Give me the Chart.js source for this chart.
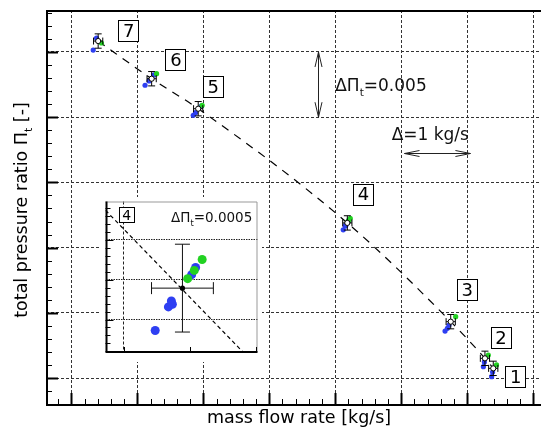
<!DOCTYPE html>
<html>
<head>
<meta charset="utf-8">
<script src="https://cdn.jsdelivr.net/npm/chart.js@4.4.1/dist/chart.umd.min.js"></script>
<style>
  html, body { margin: 0; padding: 0; background: #fff; overflow: hidden; }
  #wrap { position: relative; width: 546px; height: 442px; }
  #mainChart { position: absolute; left: 0; top: 0; }
  #insetChart { position: absolute; left: 101px; top: 197px; }
</style>
</head>
<body>
<div id="wrap">
  <canvas id="mainChart" width="546" height="442"></canvas>
  <canvas id="insetChart" width="161" height="165"></canvas>
</div>
<script>
const FONT = '"DejaVu Sans", "Liberation Sans", Arial, sans-serif';
const BLUE = '#2e3ff2';
const GREEN = '#22d222';

// operating points 1..7: mean values
const pointLabels = ['1', '2', '3', '4', '5', '6', '7'];
const meanFlow  = [16.396, 16.270, 15.751, 14.183, 11.922, 11.216, 10.405];
const meanRatio = [1.01074, 1.01151, 1.01432, 1.021893, 1.03065, 1.03295, 1.03584];
const errFlow = 0.07;
const errRatio = 0.00055;

// where the boxed numbers sit
const labelFlow  = [16.731, 16.506, 15.993, 14.419, 12.144, 11.577, 10.860];
const labelRatio = [1.01012, 1.01307, 1.01679, 1.02411, 1.03239, 1.03446, 1.03661];

// single measurements of point 4 (also shown in the inset)
const p4BlueFlow   = [14.1213, 14.1512, 14.1579, 14.1602, 14.2038, 14.2128];
const p4BlueRatio  = [1.021362, 1.021658, 1.021732, 1.021691, 1.022062, 1.022152];
const p4GreenFlow  = [14.1948, 14.2097, 14.2276];
const p4GreenRatio = [1.022012, 1.022115, 1.022251];

// single measurements of the other points
const blueFlow  = [16.371, 16.386, 16.246, 16.261, 15.665, 15.700, 15.725,
                   11.847, 11.881, 11.971, 11.116, 11.177, 11.252, 10.330, 10.380];
const blueRatio = [1.01010, 1.01046, 1.01087, 1.01123, 1.01360, 1.01381, 1.01406,
                   1.03015, 1.03035, 1.03086, 1.03245, 1.03278, 1.03324, 1.03515, 1.03607];
const greenFlow  = [16.446, 16.321, 15.826, 11.982, 11.291, 10.455];
const greenRatio = [1.01100, 1.01176, 1.01470, 1.03091, 1.03334, 1.03569];

// trend line
const trendFlow  = [10.405, 11.216, 11.922, 14.183, 15.751, 16.270, 16.396];
const trendRatio = [1.03584, 1.03295, 1.03065, 1.021893, 1.01432, 1.01151, 1.01074];

// axes
const xMin = 9.614, xMax = 17.12;
const yMin = 1.00793, yMax = 1.03822;
const xMajor = [10, 11, 12, 13, 14, 15, 16, 17];
const yMajor = [1.010, 1.015, 1.020, 1.025, 1.030, 1.035];

// scale annotations
const dRatioArrow = { flow: 13.739, from: 1.030, to: 1.035 };
const dFlowArrow = { ratio: 1.02726, from: 15.05, to: 16.05 };
const dRatioText = { flow: 14.0, ratio: 1.03247 };
const dFlowText = { flow: 14.855, ratio: 1.02871 };

// inset axes
const inXMin = 14.0088, inXMax = 14.3529;
const inYMin = 1.021093, inYMax = 1.022978;
const inXGrid = [14.05];
const inXMajor = [14.05, 14.20, 14.35];
const inYMajor = [1.0215, 1.0220, 1.0225];
const inTrendFlow  = [14.0088, 14.3198];
const inTrendRatio = [1.022868, 1.021094];
const inLabel = { flow: 14.0556, ratio: 1.022812 };
const inText = { flow: 14.341, ratio: 1.022781 };

function pts(xs, ys) { return xs.map((x, i) => ({ x: x, y: ys[i] })); }

function drawRich(ctx, parts, x, y, size) {
  parts.forEach(([s, sub]) => {
    ctx.font = (sub ? size * 0.62 : size) + 'px ' + FONT;
    ctx.fillText(s, x, sub ? y + size * 0.3 : y);
    x += ctx.measureText(s).width;
  });
}
function richWidth(ctx, parts, size) {
  let w = 0;
  parts.forEach(([s, sub]) => {
    ctx.font = (sub ? size * 0.62 : size) + 'px ' + FONT;
    w += ctx.measureText(s).width;
  });
  return w;
}
function head(ctx, tx, ty, dx, dy, len, half) {
  ctx.moveTo(tx + dx * len - dy * half, ty + dy * len + dx * half);
  ctx.lineTo(tx, ty);
  ctx.lineTo(tx + dx * len + dy * half, ty + dy * len - dx * half);
}
function errorBars(ctx, x, y, fx, fy, ex, ey, capV, capH) {
  const px = x.getPixelForValue(fx), py = y.getPixelForValue(fy);
  const x0 = x.getPixelForValue(fx - ex), x1 = x.getPixelForValue(fx + ex);
  const y0 = y.getPixelForValue(fy + ey), y1 = y.getPixelForValue(fy - ey);
  ctx.beginPath();
  ctx.moveTo(px, y0); ctx.lineTo(px, y1);
  ctx.moveTo(x0, py); ctx.lineTo(x1, py);
  ctx.moveTo(px - capV, y0); ctx.lineTo(px + capV, y0);
  ctx.moveTo(px - capV, y1); ctx.lineTo(px + capV, y1);
  ctx.moveTo(x0, py - capH); ctx.lineTo(x0, py + capH);
  ctx.moveTo(x1, py - capH); ctx.lineTo(x1, py + capH);
  ctx.stroke();
}
function box(ctx, cx, cy, w, h, text, size) {
  ctx.fillStyle = '#fff';
  ctx.fillRect(Math.round(cx - w / 2) + 0.5, Math.round(cy - h / 2) + 0.5, w, h);
  ctx.strokeStyle = '#000';
  ctx.lineWidth = 1;
  ctx.strokeRect(Math.round(cx - w / 2) + 0.5, Math.round(cy - h / 2) + 0.5, w, h);
  ctx.fillStyle = '#000';
  ctx.font = size + 'px ' + FONT;
  ctx.textAlign = 'center';
  ctx.textBaseline = 'alphabetic';
  ctx.fillText(text, cx + 0.5, cy + size * 0.36);
  ctx.textAlign = 'left';
}

const mainDecor = {
  id: 'mainDecor',
  beforeDatasetDraw(chart, args) {
    if (args.index !== 0) return;
    const { ctx, scales: { x, y } } = chart;
    ctx.save();
    ctx.strokeStyle = '#000';
    ctx.lineWidth = 1;
    meanFlow.forEach((f, i) => errorBars(ctx, x, y, f, meanRatio[i], errFlow, errRatio, 3.5, 3.5));
    ctx.restore();
  },
  afterDraw(chart) {
    const { ctx, chartArea: a, scales: { x, y } } = chart;
    ctx.save();
    ctx.strokeStyle = '#000';
    // minor / major ticks, pointing inward
    for (let k = Math.ceil(yMin / 0.001); k <= Math.floor(yMax / 0.001); k++) {
      const py = Math.round(y.getPixelForValue(k * 0.001)) + 0.5;
      const major = k % 5 === 0;
      ctx.lineWidth = major ? 2 : 1;
      ctx.beginPath(); ctx.moveTo(a.left, py); ctx.lineTo(a.left + (major ? 12 : 6), py); ctx.stroke();
    }
    for (let k = Math.ceil(xMin / 0.2); k <= Math.floor(xMax / 0.2); k++) {
      const px = Math.round(x.getPixelForValue(k * 0.2)) + 0.5;
      const major = k % 5 === 0;
      ctx.lineWidth = major ? 2 : 1;
      ctx.beginPath(); ctx.moveTo(px, a.bottom); ctx.lineTo(px, a.bottom - (major ? 12 : 6)); ctx.stroke();
    }
    // frame
    ctx.lineWidth = 2;
    ctx.beginPath();
    ctx.moveTo(a.right, a.top + 1); ctx.lineTo(a.left + 1, a.top + 1);
    ctx.lineTo(a.left + 1, a.bottom); ctx.lineTo(a.right, a.bottom);
    ctx.stroke();

    // boxed numbers
    pointLabels.forEach((t, i) => box(ctx, x.getPixelForValue(labelFlow[i]), y.getPixelForValue(labelRatio[i]), 20, 21, t, 18));

    // scale arrows
    ctx.strokeStyle = '#222';
    ctx.lineWidth = 1;
    const ax = Math.round(x.getPixelForValue(dRatioArrow.flow)) + 0.5;
    const ay0 = y.getPixelForValue(dRatioArrow.to), ay1 = y.getPixelForValue(dRatioArrow.from);
    ctx.beginPath();
    ctx.moveTo(ax, ay0); ctx.lineTo(ax, ay1);
    head(ctx, ax, ay0, 0, 1, 15, 3.5);
    head(ctx, ax, ay1, 0, -1, 15, 3.5);
    ctx.stroke();
    const hy = Math.round(y.getPixelForValue(dFlowArrow.ratio)) + 0.5;
    const hx0 = x.getPixelForValue(dFlowArrow.from), hx1 = x.getPixelForValue(dFlowArrow.to);
    ctx.beginPath();
    ctx.moveTo(hx0, hy); ctx.lineTo(hx1, hy);
    head(ctx, hx0, hy, 1, 0, 15, 3);
    head(ctx, hx1, hy, -1, 0, 15, 3);
    ctx.stroke();

    ctx.fillStyle = '#111';
    ctx.textBaseline = 'alphabetic';
    ctx.textAlign = 'left';
    drawRich(ctx, [['\u0394\u03A0', 0], ['t', 1], ['=0.005', 0]],
      x.getPixelForValue(dRatioText.flow), y.getPixelForValue(dRatioText.ratio) + 17 * 0.36, 17);
    drawRich(ctx, [['\u0394=1 kg/s', 0]],
      x.getPixelForValue(dFlowText.flow), y.getPixelForValue(dFlowText.ratio) + 17 * 0.36, 17);

    // axis titles
    ctx.fillStyle = '#000';
    ctx.font = '17.5px ' + FONT;
    ctx.textAlign = 'center';
    ctx.fillText('mass flow rate [kg/s]', (a.left + 546) / 2 + 3, 423);
    ctx.textAlign = 'left';
    const yt = [['total pressure ratio \u03A0', 0], ['t', 1], [' [-]', 0]];
    const w = richWidth(ctx, yt, 17.5);
    ctx.translate(27, 210);
    ctx.rotate(-Math.PI / 2);
    drawRich(ctx, yt, -w / 2, 0, 17.5);
    ctx.restore();
  }
};

new Chart(document.getElementById('mainChart'), {
  type: 'scatter',
  data: {
    datasets: [
      { label: 'mean', data: pts(meanFlow, meanRatio), pointRadius: 2.6,
        backgroundColor: '#fff', borderColor: '#000', borderWidth: 1, order: 0 },
      { label: 'green', data: pts(greenFlow.concat(p4GreenFlow), greenRatio.concat(p4GreenRatio)),
        pointRadius: 2.6, backgroundColor: GREEN, borderWidth: 0, order: 1 },
      { label: 'blue', data: pts(blueFlow.concat(p4BlueFlow), blueRatio.concat(p4BlueRatio)),
        pointRadius: 2.6, backgroundColor: BLUE, borderWidth: 0, order: 2 },
      { label: 'trend', data: pts(trendFlow, trendRatio), showLine: true, pointRadius: 0,
        borderColor: '#000', borderWidth: 1.2, borderDash: [8, 7],
        cubicInterpolationMode: 'monotone', order: 3 }
    ]
  },
  options: {
    responsive: false,
    animation: false,
    events: [],
    layout: { padding: { left: 46, top: 10, right: 0, bottom: 37 } },
    plugins: { legend: { display: false }, tooltip: { enabled: false } },
    scales: {
      x: {
        type: 'linear', min: xMin, max: xMax,
        afterBuildTicks: s => { s.ticks = xMajor.map(v => ({ value: v })); },
        ticks: { display: false },
        grid: { color: '#333', lineWidth: 1, drawTicks: false },
        border: { display: false, dash: [3, 2] }
      },
      y: {
        type: 'linear', min: yMin, max: yMax,
        afterBuildTicks: s => { s.ticks = yMajor.map(v => ({ value: v })); },
        ticks: { display: false },
        grid: { color: '#333', lineWidth: 1, drawTicks: false },
        border: { display: false, dash: [3, 2] }
      }
    }
  },
  plugins: [mainDecor]
});

const insetDecor = {
  id: 'insetDecor',
  beforeDraw(chart) {
    const { ctx, width, height } = chart;
    ctx.save();
    ctx.fillStyle = '#fff';
    ctx.fillRect(0, 0, width, height);
    ctx.restore();
  },
  beforeDatasetDraw(chart, args) {
    if (args.index !== 0) return;
    const { ctx, scales: { x, y } } = chart;
    ctx.save();
    ctx.strokeStyle = '#111';
    ctx.lineWidth = 1;
    errorBars(ctx, x, y, meanFlow[3], meanRatio[3], errFlow, errRatio, 7.5, 6);
    ctx.restore();
  },
  afterDraw(chart) {
    const { ctx, chartArea: a, scales: { x, y } } = chart;
    ctx.save();
    ctx.strokeStyle = '#999';
    ctx.lineWidth = 1;
    ctx.beginPath();
    ctx.moveTo(a.left, a.top + 0.5); ctx.lineTo(a.right - 0.5, a.top + 0.5); ctx.lineTo(a.right - 0.5, a.bottom);
    ctx.stroke();
    ctx.strokeStyle = '#000';
    for (let k = Math.ceil(inYMin / 0.0001); k <= Math.floor(inYMax / 0.0001); k++) {
      const py = Math.round(y.getPixelForValue(k * 0.0001)) + 0.5;
      const major = k % 5 === 0;
      ctx.beginPath(); ctx.moveTo(a.left, py); ctx.lineTo(a.left + (major ? 8 : 5), py); ctx.stroke();
    }
    inXMajor.forEach(v => {
      const px = Math.round(x.getPixelForValue(v)) + 0.5;
      ctx.beginPath(); ctx.moveTo(px, a.bottom); ctx.lineTo(px, a.bottom - 5); ctx.stroke();
    });
    ctx.lineWidth = 2;
    ctx.beginPath();
    ctx.moveTo(a.left + 1, a.top); ctx.lineTo(a.left + 1, a.bottom); ctx.lineTo(a.right, a.bottom);
    ctx.stroke();

    box(ctx, x.getPixelForValue(inLabel.flow), y.getPixelForValue(inLabel.ratio), 15, 15, pointLabels[3], 14);

    ctx.fillStyle = '#111';
    ctx.textBaseline = 'alphabetic';
    const parts = [['\u0394\u03A0', 0], ['t', 1], ['=0.0005', 0]];
    const w = richWidth(ctx, parts, 13.5);
    drawRich(ctx, parts, x.getPixelForValue(inText.flow) - w, y.getPixelForValue(inText.ratio) + 13.5 * 0.36, 13.5);
    ctx.restore();
  }
};

new Chart(document.getElementById('insetChart'), {
  type: 'scatter',
  data: {
    datasets: [
      { label: 'mean', data: pts([meanFlow[3]], [meanRatio[3]]), pointRadius: 2.6,
        backgroundColor: '#000', borderWidth: 0, order: 0 },
      { label: 'green', data: pts(p4GreenFlow, p4GreenRatio), pointRadius: 4.5,
        backgroundColor: GREEN, borderWidth: 0, order: 1 },
      { label: 'blue', data: pts(p4BlueFlow, p4BlueRatio), pointRadius: 4.5,
        backgroundColor: BLUE, borderWidth: 0, order: 2 },
      { label: 'trend', data: pts(inTrendFlow, inTrendRatio), showLine: true, pointRadius: 0,
        borderColor: '#000', borderWidth: 1.2, borderDash: [4, 3], order: 3 }
    ]
  },
  options: {
    responsive: false,
    animation: false,
    events: [],
    layout: { padding: { left: 4, top: 2, right: 4, bottom: 10 } },
    plugins: { legend: { display: false }, tooltip: { enabled: false } },
    scales: {
      x: {
        type: 'linear', min: inXMin, max: inXMax,
        afterBuildTicks: s => { s.ticks = inXGrid.map(v => ({ value: v })); },
        ticks: { display: false },
        grid: { color: '#222', lineWidth: 1, drawTicks: false },
        border: { display: false, dash: [3, 2] }
      },
      y: {
        type: 'linear', min: inYMin, max: inYMax,
        afterBuildTicks: s => { s.ticks = inYMajor.map(v => ({ value: v })); },
        ticks: { display: false },
        grid: { color: '#222', lineWidth: 1, drawTicks: false },
        border: { display: false, dash: [1.5, 1] }
      }
    }
  },
  plugins: [insetDecor]
});
</script>
</body>
</html>
